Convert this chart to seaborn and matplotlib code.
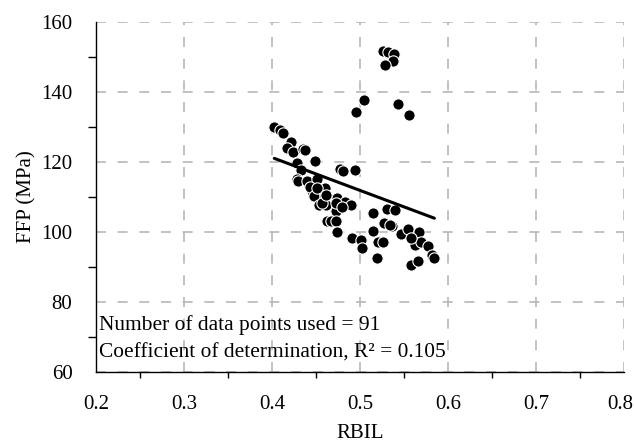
import numpy as np
import pandas as pd
import matplotlib
matplotlib.use("Agg")
import matplotlib.pyplot as plt
import matplotlib.transforms as mtransforms
import seaborn as sns
from matplotlib.ticker import MultipleLocator

# ---- data ----
rbil = [0.4026, 0.4095, 0.4123, 0.4217, 0.4175, 0.4235, 0.4357, 0.4380, 0.4486, 0.4283,
        0.4331, 0.4289, 0.4300, 0.4403, 0.4506, 0.4574, 0.4597, 0.4449, 0.4437, 0.4477,
        0.4597, 0.4532, 0.4608, 0.4742, 0.4825, 0.4894, 0.4728, 0.4626, 0.4671, 0.4728,
        0.4734, 0.4768, 0.4810, 0.4942, 0.4957, 0.5045, 0.5430, 0.4913, 0.5011, 0.5023,
        0.5153, 0.5153, 0.5202, 0.5256, 0.5194, 0.5305, 0.5398, 0.5270, 0.5362, 0.5340,
        0.5465, 0.5550, 0.5674, 0.5621, 0.5696, 0.5769, 0.5822, 0.5845, 0.5575, 0.5655,
        0.5553, 0.5256, 0.5313, 0.5389, 0.5370, 0.5283, 0.4507, 0.4571, 0.4723, 0.4799,
        0.4608, 0.5580]
ffp = [129.8, 129.0, 128.3, 125.5, 123.8, 122.8, 123.6, 123.3, 120.1, 119.6,
       117.6, 115.0, 114.5, 114.5, 115.0, 112.2, 112.5, 111.6, 112.9, 110.3,
       110.1, 107.6, 107.6, 109.6, 108.6, 107.5, 105.9, 103.1, 103.1, 103.1,
       100.0, 117.8, 117.3, 117.5, 134.1, 137.5, 136.5, 98.3, 97.5, 95.3,
       105.4, 100.3, 97.1, 97.0, 92.6, 106.4, 106.2, 102.6, 101.5, 101.8,
       99.2, 100.8, 99.8, 96.2, 97.1, 95.9, 93.4, 92.6, 90.5, 91.6,
       133.3, 151.6, 151.4, 150.7, 148.8, 147.6, 112.4, 108.1, 108.1, 107.1,
       110.5, 98.1]

fit_intercept = 158.8
fit_slope = -94.0

x_ticks = [0.2, 0.3, 0.4, 0.5, 0.6, 0.7, 0.8]
y_ticks = [60, 80, 100, 120, 140, 160]
x_label = "RBIL"
y_label = "FFP (MPa)"
note_lines = ["Number of data points used = 91",
              "Coefficient of determination, R\u00b2 = 0.105"]

# ---- plotting ----
sns.set_theme(style="white")
plt.rcParams['font.family'] = ['Liberation Serif', 'DejaVu Serif']

df = pd.DataFrame({"RBIL": rbil, "FFP": ffp})
xs = np.array([min(rbil), max(rbil)])
fit_df = pd.DataFrame({"RBIL": xs, "FFP": fit_intercept + fit_slope * xs})

fig = plt.figure(figsize=(6.34, 4.44), dpi=100)
ax = fig.add_axes([96 / 634, 1 - 371.7 / 444, (624 - 96) / 634, (371.7 - 21.7) / 444])

sns.scatterplot(data=df, x="RBIL", y="FFP", ax=ax, color="black", s=66,
                edgecolor="white", linewidth=0.8, zorder=3)
sns.lineplot(data=fit_df, x="RBIL", y="FFP", ax=ax, color="black", lw=2.2, zorder=4)

ax.set_xlim(0.2, 0.8)
ax.set_ylim(60, 160)
ax.set_xticks(x_ticks)
ax.set_yticks(y_ticks)
ax.set_xticklabels([f"{v:.1f}" for v in x_ticks])
ax.set_yticklabels([str(v) for v in y_ticks])
ax.xaxis.set_minor_locator(MultipleLocator(0.05))
ax.yaxis.set_minor_locator(MultipleLocator(10))

ax.grid(True, which="major", color="#b8b8b8", linestyle=(0, (6, 7)), linewidth=1.2)
ax.set_axisbelow(True)

for s in ["top", "right"]:
    ax.spines[s].set_visible(False)
for s in ["left", "bottom"]:
    ax.spines[s].set_color("black")
    ax.spines[s].set_linewidth(1.0)
    ax.spines[s].set_zorder(5)

ax.tick_params(axis="both", which="major", direction="inout", length=11, width=1,
               colors="black", labelsize=15, labelcolor="black")
ax.tick_params(axis="y", which="major", pad=11.5)
ax.tick_params(axis="x", which="major", pad=11.5)
ax.tick_params(axis="x", which="minor", direction="out", length=4, width=1, colors="black", bottom=True)
ax.tick_params(axis="y", which="minor", direction="out", length=6, width=1, colors="black", left=True)

# keep the last x tick label inside the canvas
last = ax.get_xticklabels()[-1]
last.set_transform(last.get_transform() + mtransforms.ScaledTranslation(-4 / 100, 0, fig.dpi_scale_trans))

ax.set_xlabel(x_label, fontsize=15, labelpad=7, color="black")
ax.set_ylabel(y_label, fontsize=15, labelpad=3.5, color="black")

ax.text(0.2035, 73.3, note_lines[0], fontsize=15.4, va="center", ha="left", color="black")
ax.text(0.2035, 65.4, note_lines[1], fontsize=15.4, va="center", ha="left", color="black")

fig.savefig("out.png", dpi=100)
